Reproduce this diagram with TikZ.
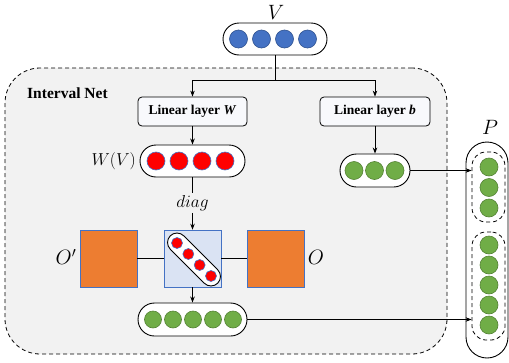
\documentclass[tikz,border=0pt]{standalone}
\usepackage{fontspec}
\setmainfont{Liberation Serif}
\usetikzlibrary{arrows.meta}
\definecolor{bgg}{HTML}{F2F2F2}
\definecolor{dotblue}{HTML}{4472C4}
\definecolor{dotblueb}{HTML}{2F528F}
\definecolor{dotgreen}{HTML}{70AD47}
\definecolor{dotgreenb}{HTML}{548235}
\definecolor{orangef}{HTML}{ED7D31}
\definecolor{diagf}{HTML}{DAE3F3}
\definecolor{sqb}{HTML}{4472C4}
\definecolor{layerfill}{HTML}{F8F9FC}
\begin{document}
\begin{tikzpicture}[x=1pt,y=-1pt,
  capsule/.style={draw=black, fill=white, line width=0.9pt, inner sep=0pt},
  bdot/.style={circle, inner sep=0pt, minimum size=18pt, fill=dotblue, draw=dotblueb, line width=0.6pt},
  rdot/.style={circle, inner sep=0pt, minimum size=18pt, fill=red, draw=dotblue, line width=0.6pt},
  srdot/.style={rdot, minimum size=11pt},
  gdot/.style={circle, inner sep=0pt, minimum size=17pt, fill=dotgreen, draw=dotgreenb, line width=0.6pt},
  layer/.style={draw, fill=layerfill, rounded corners=4pt, line width=0.8pt, minimum width=109pt, minimum height=29pt, font=\fontsize{13.5}{15}\selectfont\bfseries, inner sep=0pt},
  sqbox/.style={draw=sqb, minimum size=57pt, inner sep=0pt, line width=0.6pt},
  arr/.style={-{Stealth[length=6pt,width=4.5pt]}, line width=0.8pt},
  conn/.style={line width=0.8pt},
  mlabel/.style={font=\fontsize{18}{20}\selectfont, inner sep=0pt},
  blabel/.style={font=\fontsize{20}{22}\selectfont, inner sep=0pt},
  grp/.style={draw, dashed, dash pattern=on 4pt off 3pt, line width=0.8pt, rounded corners=14pt, inner sep=0pt, minimum width=33pt}
]
\useasboundingbox (0,0) rectangle (509,362);

% Interval Net background
\node[draw, dash pattern=on 4pt off 3pt, fill=bgg, rounded corners=35pt, line width=0.8pt,
      minimum width=442pt, minimum height=286pt, inner sep=0pt] (net) at (226,211) {};
\node[font=\fontsize{15.5}{17}\selectfont\bfseries, anchor=west, inner sep=0pt] (netlabel) at (27,93) {Interval Net};

% V
\node[blabel] (Vlabel) at (276,12) {$V$};
\node[capsule, minimum width=104pt, minimum height=32pt, rounded corners=16pt] (V) at (275,39) {};
\foreach \x [count=\i] in {238.5,261.5,284.5,307.5} \node[bdot] (v\i) at (\x,39) {};

% Linear layers
\node[layer] (LW) at (192.5,111.5) {Linear layer \textit{W}};
\node[layer, minimum width=110pt] (Lb) at (375,111.5) {Linear layer \textit{b}};
\coordinate (split) at (275,80);
\draw[conn] (V.south) -- (split);
\draw[arr] (split) -| (LW.north);
\draw[arr] (split) -| (Lb.north);

% W(V)
\node[capsule, minimum width=105pt, minimum height=32pt, rounded corners=16pt] (WV) at (192.5,161) {};
\foreach \x [count=\i] in {156,179,202,225} \node[rdot] (w\i) at (\x,161) {};
\node[mlabel, anchor=east] (WVlabel) at (136,161) {$W(V)$};
\draw[arr] (LW.south) -- (WV.north);

% diag
\node[font=\fontsize{17}{19}\selectfont, inner sep=2pt] (diaglabel) at (192.5,203) {$diag$};
\node[sqbox, fill=diagf] (D) at (192.5,258.5) {};
\node[sqbox, fill=orangef] (Op) at (108.5,258.5) {};
\node[sqbox, fill=orangef] (O) at (276,258.5) {};
\node[blabel] (Oplabel) at (66,257) {$O'$};
\node[blabel] (Olabel) at (316,257) {$O$};
\draw[conn] (WV.south) -- (diaglabel.north);
\draw[arr] (diaglabel.south) -- (D.north);
\draw[conn] (Op.east) -- (D.west);
\draw[conn] (D.east) -- (O.west);
\node[capsule, minimum width=67pt, minimum height=19pt, rounded corners=9.5pt, rotate=-45] (dcap) at (194,259.5) {};
\foreach \k [count=\i] in {0,1,2,3} \node[srdot] (d\i) at (177+11.33*\k,243+11*\k) {};

% bottom green
\node[capsule, minimum width=109pt, minimum height=33pt, rounded corners=16.5pt] (G) at (192.5,319.5) {};
\foreach \x [count=\i] in {153,173,193,213,233} \node[gdot] (g\i) at (\x,319.5) {};
\draw[arr] (D.south) -- (G.north);

% small green
\node[capsule, minimum width=70pt, minimum height=33pt, rounded corners=16.5pt] (S) at (375,170.5) {};
\foreach \x [count=\i] in {354,374.5,395} \node[gdot, minimum size=18pt] (s\i) at (\x,170.5) {};
\draw[arr] (Lb.south) -- (S.north);

% P
\node[blabel] (Plabel) at (490,127) {$P$};
\node[capsule, minimum width=42pt, minimum height=216pt, rounded corners=21pt] (P) at (487,250) {};
\node[grp, minimum height=70pt] (Ptop) at (488.5,187) {};
\node[grp, minimum height=108pt] (Pbot) at (488.5,286) {};
\foreach \y [count=\i] in {167,187.5,208} \node[gdot, minimum size=18pt] (pt\i) at (489,\y) {};
\foreach \y [count=\i] in {245,265,285,305,325} \node[gdot, minimum size=18pt] (pb\i) at (489,\y) {};
\draw[arr] (S.east) -- (S.east -| Ptop.west);
\draw[arr] (G.east) -- (G.east -| Pbot.west);
\end{tikzpicture}
\end{document}
